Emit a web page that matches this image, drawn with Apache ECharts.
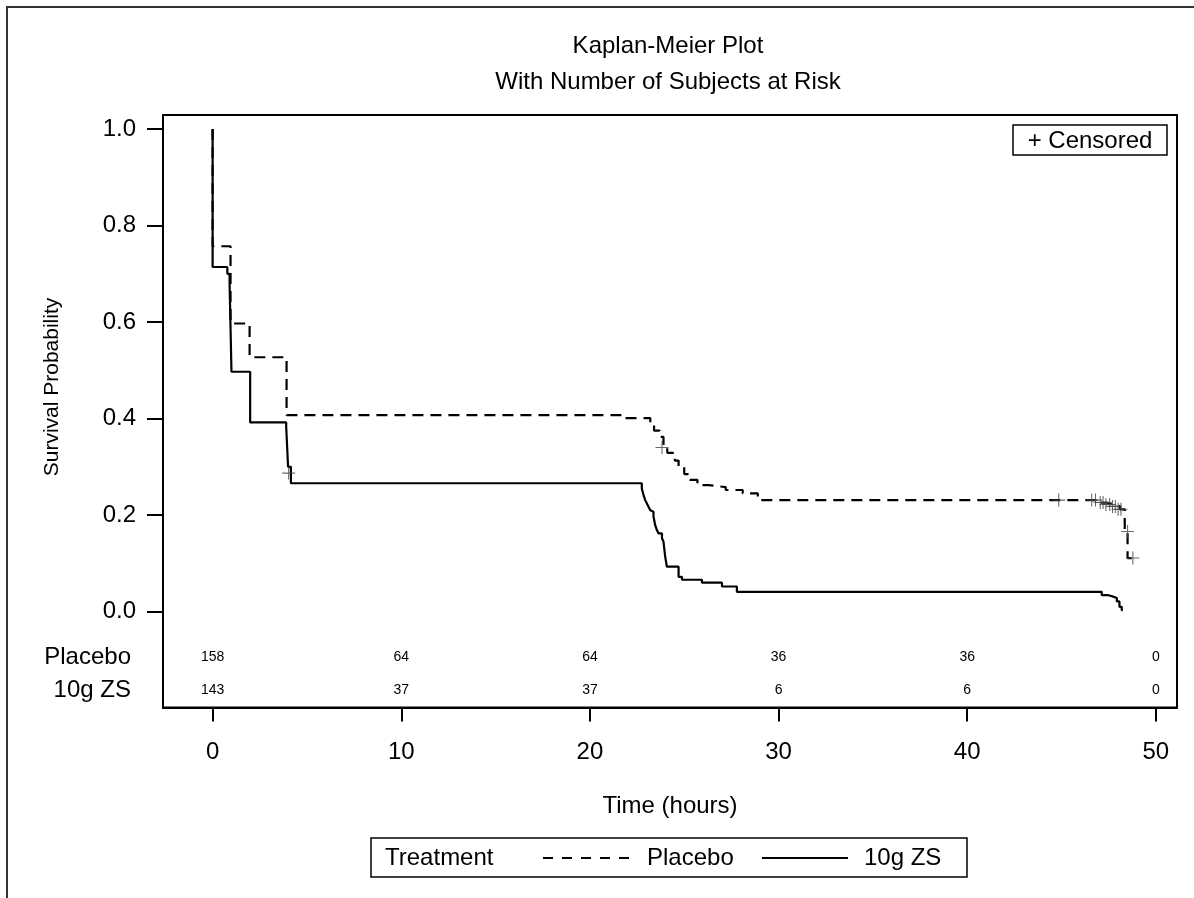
<!DOCTYPE html>
<html><head><meta charset="utf-8">
<script src="https://cdn.jsdelivr.net/npm/echarts@6/dist/echarts.min.js"></script>
<style>html,body{margin:0;padding:0;background:#fff}#c{width:1194px;height:898px}</style>
</head><body><div id="c"></div>
<script>
// ---------------- data ----------------
const titleLines = ['Kaplan-Meier Plot', 'With Number of Subjects at Risk'];
const xTicks = [0, 10, 20, 30, 40, 50];
const yTicks = [0, 0.2, 0.4, 0.6, 0.8, 1.0];
const groupNames = ['Placebo', '10g ZS'];

// Kaplan-Meier step points [time, survival] (value after each drop)
const placeboSteps = [
  [0, 1.0], [0, 0.757], [0.95, 0.597], [1.96, 0.527], [3.92, 0.407],
  [21.8, 0.401], [23.2, 0.390], [23.4, 0.375], [23.7, 0.362], [23.9, 0.343],
  [24.1, 0.329], [24.5, 0.313], [24.7, 0.300], [25.0, 0.285], [25.3, 0.273],
  [25.7, 0.262], [26.3, 0.258], [27.2, 0.252], [28.1, 0.245], [28.9, 0.231],
  [47.0, 0.226], [47.4, 0.222], [47.8, 0.218], [48.1, 0.212], [48.35, 0.166],
  [48.5, 0.111], [48.78, 0.111]
];
const zsSteps = [
  [0, 1.0], [0, 0.714], [0.78, 0.700], [0.9, 0.680], [1.0, 0.497],
  [1.99, 0.392], [3.9, 0.383], [4.0, 0.300], [4.15, 0.266],
  [22.75, 0.255], [22.84, 0.242], [22.93, 0.231], [23.02, 0.224], [23.11, 0.217],
  [23.2, 0.210], [23.29, 0.207], [23.37, 0.197], [23.46, 0.179], [23.55, 0.169],
  [23.64, 0.162], [23.82, 0.152], [23.9, 0.145], [23.99, 0.114], [24.08, 0.093],
  [24.7, 0.072], [24.88, 0.066], [25.94, 0.060], [27.0, 0.052], [27.79, 0.041],
  [47.13, 0.034], [47.48, 0.031], [47.75, 0.028], [47.93, 0.021], [48.07, 0.010],
  [48.19, 0.003], [48.25, 0.003]
];
const placeboCensored = [
  [23.82, 0.340], [44.85, 0.231], [46.6, 0.231], [46.8, 0.231], [47.05, 0.226],
  [47.2, 0.226], [47.35, 0.222], [47.55, 0.222], [47.7, 0.218], [47.85, 0.218],
  [48.0, 0.212], [48.15, 0.212], [48.5, 0.166], [48.78, 0.111]
];
const zsCensored = [[4.03, 0.287]];

const riskTimes = [0, 10, 20, 30, 40, 50];
const riskPlacebo = [158, 64, 64, 36, 36, 0];
const riskZS = [143, 37, 37, 6, 6, 0];

// ---------------- layout ----------------
const X_MIN = -2.63, X_MAX = 51.12, Y_MIN = -0.1987, Y_MAX = 1.029;
const ROW_Y = [-0.094, -0.1625];
const FONT = '"Liberation Sans", Arial, sans-serif';
const PLUS = 'path://M0,5.5L12,5.5L12,6.5L0,6.5Z M5.5,0L6.5,0L6.5,12L5.5,12Z';

const chart = echarts.init(document.getElementById('c'), null, {renderer: 'canvas'});

function riskSeries(values, row) {
  return {
    type: 'scatter', symbol: 'circle', symbolSize: 0, silent: true,
    itemStyle: {color: '#000'},
    data: riskTimes.map((t, i) => [t, ROW_Y[row], values[i]]),
    label: {show: true, position: 'inside', formatter: p => String(p.value[2]),
      fontSize: 14, color: '#000', opacity: 1, fontFamily: FONT}
  };
}

const option = {
  animation: false,
  backgroundColor: '#fff',
  grid: {left: 163, top: 115, width: 1014, height: 592.5, show: true,
    borderColor: '#000', borderWidth: 2, backgroundColor: 'transparent'},
  xAxis: {
    type: 'value', min: X_MIN, max: X_MAX,
    axisLine: {show: true, onZero: false, lineStyle: {color: '#000', width: 2}},
    axisTick: {show: true, customValues: xTicks, length: 14, lineStyle: {color: '#000', width: 2}},
    axisLabel: {customValues: xTicks, fontSize: 24, color: '#000', margin: 33, fontFamily: FONT},
    splitLine: {show: false},
    name: 'Time (hours)', nameLocation: 'middle', nameGap: 87,
    nameTextStyle: {fontSize: 24, color: '#000', fontFamily: FONT}
  },
  yAxis: {
    type: 'value', min: Y_MIN, max: Y_MAX,
    axisLine: {show: true, onZero: false, lineStyle: {color: '#000', width: 2}},
    axisTick: {show: true, customValues: yTicks, length: 16, lineStyle: {color: '#000', width: 2}},
    axisLabel: {customValues: yTicks, formatter: v => Number(v).toFixed(1), fontSize: 24,
      color: '#000', margin: 27, fontFamily: FONT},
    splitLine: {show: false}
  },
  graphic: [
    {type: 'rect', z: -10, silent: true, shape: {x: 7, y: 7, width: 1300, height: 1000},
      style: {fill: 'none', stroke: '#333', lineWidth: 2}},
    {type: 'text', silent: true, style: {text: titleLines[0], x: 668, y: 46, textAlign: 'center',
      textVerticalAlign: 'middle', fontSize: 24, fontFamily: FONT, fill: '#000'}},
    {type: 'text', silent: true, style: {text: titleLines[1], x: 668, y: 82, textAlign: 'center',
      textVerticalAlign: 'middle', fontSize: 24, fontFamily: FONT, fill: '#000'}},
    {type: 'text', silent: true, rotation: Math.PI / 2, x: 52, y: 387,
      style: {text: 'Survival Probability', x: 0, y: 0, textAlign: 'center',
        textVerticalAlign: 'middle', fontSize: 21, fontFamily: FONT, fill: '#000'}},
    // censored box
    {type: 'rect', silent: true, z: 20, shape: {x: 1013, y: 125, width: 154, height: 30},
      style: {fill: '#fff', stroke: '#000', lineWidth: 1.5}},
    {type: 'text', silent: true, z: 21, style: {text: '+ Censored', x: 1090, y: 141, textAlign: 'center',
      textVerticalAlign: 'middle', fontSize: 24, fontFamily: FONT, fill: '#000'}},
    // legend
    {type: 'rect', silent: true, shape: {x: 371, y: 838, width: 596, height: 39},
      style: {fill: '#fff', stroke: '#000', lineWidth: 1.5}},
    {type: 'text', silent: true, style: {text: 'Treatment', x: 385, y: 858, textAlign: 'left',
      textVerticalAlign: 'middle', fontSize: 24, fontFamily: FONT, fill: '#000'}},
    {type: 'line', silent: true, shape: {x1: 543, y1: 858, x2: 629, y2: 858},
      style: {stroke: '#000', lineWidth: 2, lineDash: [10, 9]}},
    {type: 'text', silent: true, style: {text: groupNames[0], x: 647, y: 858, textAlign: 'left',
      textVerticalAlign: 'middle', fontSize: 24, fontFamily: FONT, fill: '#000'}},
    {type: 'line', silent: true, shape: {x1: 762, y1: 858, x2: 848, y2: 858},
      style: {stroke: '#000', lineWidth: 2}},
    {type: 'text', silent: true, style: {text: groupNames[1], x: 864, y: 858, textAlign: 'left',
      textVerticalAlign: 'middle', fontSize: 24, fontFamily: FONT, fill: '#000'}}
  ],
  series: [
    {name: groupNames[0], type: 'line', step: 'end', symbol: 'none', data: placeboSteps,
      lineStyle: {color: '#000', width: 2.2, type: [11, 7]}, z: 3},
    {name: groupNames[1], type: 'line', step: 'end', symbol: 'none', data: zsSteps,
      lineStyle: {color: '#000', width: 2.2, type: 'solid'}, z: 3},
    {type: 'scatter', symbol: PLUS, symbolSize: 13, data: placeboCensored,
      itemStyle: {color: '#444'}, z: 4},
    {type: 'scatter', symbol: PLUS, symbolSize: 13, data: zsCensored,
      itemStyle: {color: '#444'}, z: 4},
    riskSeries(riskPlacebo, 0),
    riskSeries(riskZS, 1),
    {type: 'scatter', symbol: 'circle', symbolSize: 0, silent: true,
      itemStyle: {color: '#000'},
      data: groupNames.map((g, i) => [X_MIN, ROW_Y[i], g]),
      label: {show: true, position: 'left', distance: 32, formatter: p => p.value[2],
        fontSize: 24, color: '#000', opacity: 1, fontFamily: FONT}}
  ]
};
chart.setOption(option);
</script></body></html>
